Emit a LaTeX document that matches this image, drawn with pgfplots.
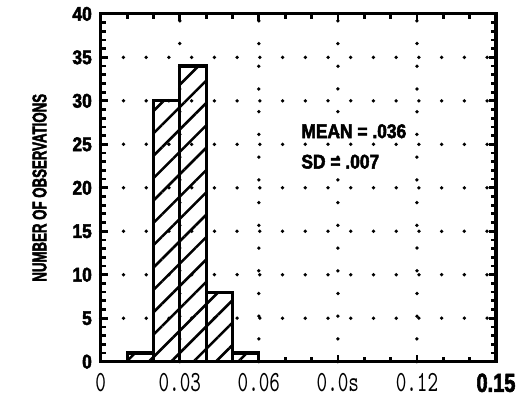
\documentclass[border=0pt]{standalone}
\usepackage{fontspec}
\setmainfont{Liberation Sans}
\newfontfamily\heavy[FakeBold=2.5,FakeStretch=0.88]{Liberation Sans}
\usepackage{pgfplots}
\pgfplotsset{compat=1.18}
\usetikzlibrary{patterns.meta}
\newcommand\xl[1]{\scalebox{1}[1.45]{\ttfamily\fontsize{10.2}{10}\selectfont #1}}
\begin{document}
\begin{tikzpicture}
\begin{axis}[
  scale only axis, width=200pt, height=176pt,
  xmin=0, xmax=0.15, ymin=0, ymax=40,
  clip=false,
  axis line style={line width=1.6pt},
  xtick={0,0.03,0.06,0.09,0.12,0.15},
  xticklabels={\xl{0},\xl{0.03},\xl{0.06},\xl{0.0s},\xl{0.12},{\scalebox{1}[1.15]{\fontsize{11.5}{10}\selectfont\heavy\bfseries 0.15}}},
  minor xtick={0.01,0.02,0.04,0.05,0.07,0.08,0.10,0.11,0.13,0.14},
  ytick={0,5,...,40},
  minor ytick={1,2,3,4,6,7,8,9,11,12,13,14,16,17,18,19,21,22,23,24,26,27,28,29,31,32,33,34,36,37,38,39},
  tick align=inside,
  major tick length=3.5pt, minor tick length=2.5pt,
  every tick/.style={line width=1.4pt, black},
  /pgf/number format/assume math mode=true,
  yticklabel style={font=\fontsize{10}{10}\selectfont\heavy\bfseries, xshift=-1pt},
  xticklabel style={yshift=-2.5pt},
  ylabel={\resizebox{95pt}{7pt}{\heavy\bfseries NUMBER OF OBSERVATIONS}},
  ylabel style={at={(axis description cs:-0.155,0.5)}, anchor=center},
]
% dotted grid
\pgfplotsinvokeforeach{5,10,...,35}{
  \draw[line width=1.9pt, line cap=round, dash pattern=on 0pt off 11.5pt] (axis cs:0,#1) -- (axis cs:0.15,#1);
}
\pgfplotsinvokeforeach{0.03,0.06,0.09,0.12}{
  \draw[line width=1.9pt, line cap=round, dash pattern=on 0pt off 11.5pt] (axis cs:#1,0) -- (axis cs:#1,40);
}
\addplot[ybar interval, draw=black, line width=1.6pt,
  pattern={Lines[angle=45,distance=8pt,line width=1.3pt]}, pattern color=black]
  coordinates {(0.01,1) (0.02,30) (0.03,34) (0.04,8) (0.05,1) (0.06,1)};
\node[anchor=west, font=\fontsize{10}{10}\selectfont\heavy\bfseries, inner sep=0pt] at (axis cs:0.0760,26.5) {MEAN = .036};
\node[anchor=west, font=\fontsize{10}{10}\selectfont\heavy\bfseries, inner sep=0pt] at (axis cs:0.0760,23.0) {SD = .007};
\path (rel axis cs:-0.255,-0.0909) (rel axis cs:1.05,1.04);
\end{axis}
\end{tikzpicture}
\end{document}
